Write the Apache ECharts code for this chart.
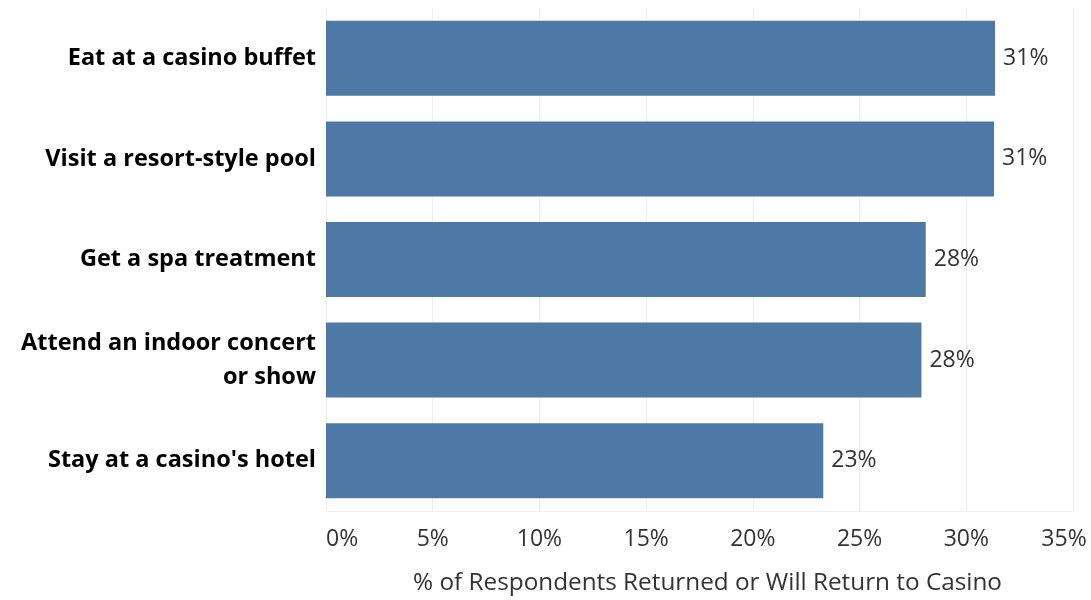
<!DOCTYPE html>
<html><head><meta charset="utf-8">
<script src="https://cdn.jsdelivr.net/npm/echarts@6/dist/echarts.min.js"></script>
<style>html,body{margin:0;padding:0;background:#fff;overflow:hidden}#c{width:100vw;height:100vh}</style>
</head><body><div id="c"></div>
<script>
const categories = ["Eat at a casino buffet", "Visit a resort-style pool", "Get a spa treatment", "Attend an indoor concert\nor show", "Stay at a casino's hotel"];
const values = [31.35, 31.3, 28.1, 27.9, 23.3];
const xTicks = [0, 5, 10, 15, 20, 25, 30, 35];
const axisTitle = "% of Respondents Returned or Will Return to Casino";

const chart = echarts.init(document.getElementById('c'), null, {renderer: 'canvas'});
const font = "'Open Sans', 'Noto Sans', sans-serif";
const maxTick = xTicks[xTicks.length - 1];
chart.setOption({
  animation: false,
  textStyle: {fontFamily: font},
  grid: {left: 326, right: 18, top: 8, bottom: 87, containLabel: false},
  xAxis: {
    type: 'value', min: xTicks[0], max: maxTick, interval: 5,
    name: axisTitle, nameLocation: 'middle', nameGap: 60,
    nameTextStyle: {fontSize: 24.3, color: '#333', fontFamily: font, padding: [0, 0, 0, 16]},
    axisLine: {show: true, lineStyle: {color: '#eeeeee'}},
    axisTick: {show: false},
    splitLine: {show: true, lineStyle: {color: '#eeeeee', width: 1}},
    axisLabel: {fontSize: 23, color: '#333', margin: 17, fontFamily: font,
      formatter: v => v === maxTick ? '{m|' + v + '%}' : v + '%',
      rich: {m: {fontSize: 23, color: '#333', fontFamily: font, padding: [0, 18, 0, 0]}},
      alignMinLabel: 'left', alignMaxLabel: 'center'}
  },
  yAxis: {
    type: 'category', data: categories, inverse: true,
    axisLine: {show: true, lineStyle: {color: '#eeeeee'}},
    axisTick: {show: false},
    axisLabel: {fontSize: 23.5, fontWeight: 'bold', color: '#000', margin: 10, lineHeight: 34, fontFamily: font, align: 'right', verticalAlign: 'middle', padding: [9, 0, 0, 0]}
  },
  series: [{
    type: 'bar', data: values, barWidth: 75,
    itemStyle: {color: '#4e79a7'},
    label: {show: true, position: 'right', distance: 8, fontSize: 23, color: '#333', fontFamily: font,
      padding: [4, 0, 0, 0],
      formatter: p => Math.round(p.value) + '%'}
  }]
});
</script></body></html>
